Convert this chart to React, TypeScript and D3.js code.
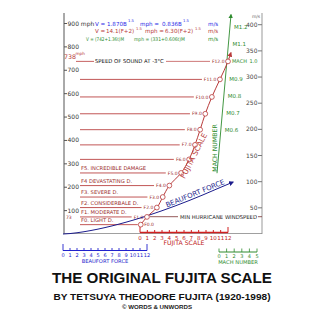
import React from "react";
import * as d3 from "d3";

// ---- data ----
const leftTicks = [100, 200, 300, 400, 500, 600, 700, 800, 900];
const rightTicks = [50, 100, 150, 200, 250, 300, 350, 400];
const fujitaNums = [0, 1, 2, 3, 4, 5, 6, 7, 8, 9, 10, 11, 12];
const fujitaMph = [40, 73, 113, 158, 207, 261, 319, 381, 446, 514, 586, 661, 738];
const fujitaCurvePos = [0.1, 0.95, 2.3, 3.1, 4.0, 5.6, 6.7, 7.5, 8.2, 8.9, 9.8, 10.9, 12.0];
const fujitaArrowPos = 12.4;
const fujitaArrowMph = 775;
const damageLabels = [
  "F0. LIGHT D.",
  "F1. MODERATE D.",
  "F2. CONSIDERBALE D.",
  "F3. SEVERE D.",
  "F4 DEVASTATING D.",
  "F5. INCREDIBLE DAMAGE",
];
const beaufortNums = [0, 1, 2, 3, 4, 5, 6, 7, 8, 9, 10, 11, 12];
const beaufortCurveB = [0, 1, 2, 3, 4, 5, 6, 7, 8, 9, 10, 11, 12, 14, 16, 18, 20, 22, 24.3];
const beaufortCurveMph = [0, 1.9, 5.3, 9.7, 15, 20.9, 27.5, 34.6, 42.3, 50.5, 59.1, 68.2, 77.7, 98, 119.7, 142.8, 167.3, 193, 222];
const machNums = [0, 1, 2, 3, 4, 5];
const machMarks = ["M0.6", "M0.7", "M0.8", "M0.9", "M1.1", "M1.2"];
const machMarkMph = [443, 517, 590, 664, 812, 886];
const machLineMph = [260, 938];
const soundMph = 738;
const minHurricaneMph = 74;
const mpsToMph = 2.237;

const RED = "#b83a3a";
const DRED = "#9a2b2b";
const BLUE = "#1c1c8c";
const EQBLUE = "#2a2ae6";
const GREEN = "#2e8b2e";
const FONT = "DejaVu Sans, sans-serif";

export default function App() {
  const y = d3.scaleLinear().domain([0, 900]).range([234, 23.5]);
  const xF = d3.scaleLinear().domain([0, 12]).range([140, 228]);
  const xB = d3.scaleLinear().domain([0, 12]).range([63, 147]);
  const xM = d3.scaleLinear().domain([0, 5]).range([219, 257]);
  const xMachLine = d3.scaleLinear().domain(machLineMph).range([217, 231]);

  const fPts: [number, number][] = fujitaMph.map((v, i) => [xF(fujitaCurvePos[i]), y(v)]);
  const fLine = d3.line().curve(d3.curveMonotoneY)([
    ...fPts,
    [xF(fujitaArrowPos), y(fujitaArrowMph)],
  ] as [number, number][]);
  const bLine = d3
    .line<number>()
    .x((_, i) => xB(beaufortCurveB[i]))
    .y((v) => y(v))
    .curve(d3.curveMonotoneX)(beaufortCurveMph);

  const bx1 = xB(16.5), by1 = y(125), bx2 = xB(21.5), by2 = y(186);
  const bAngle = (Math.atan2(by2 - by1, bx2 - bx1) * 180) / Math.PI;

  const labelW = (s: string, fs: number) => s.length * fs * 0.6;

  return (
    <svg width={325} height={325} style={{ position: "absolute", left: 0, top: 0, background: "#fff" }} fontFamily={FONT}>
      <defs>
        <marker id="arR" viewBox="0 0 10 10" refX="8" refY="5" markerWidth="5" markerHeight="5" orient="auto">
          <path d="M0,0 L10,5 L0,10 z" fill={RED} />
        </marker>
        <marker id="arB" viewBox="0 0 10 10" refX="8" refY="5" markerWidth="5" markerHeight="5" orient="auto">
          <path d="M0,0 L10,5 L0,10 z" fill={BLUE} />
        </marker>
        <marker id="arG" viewBox="0 0 10 10" refX="8" refY="5" markerWidth="5" markerHeight="5" orient="auto">
          <path d="M0,0 L10,5 L0,10 z" fill={GREEN} />
        </marker>
      </defs>

      {/* axes */}
      <line x1={64} x2={64} y1={13} y2={234} stroke="#555" strokeWidth={1} />
      <line x1={262} x2={262} y1={13} y2={234} stroke="#999" strokeWidth={1} />
      <line x1={64} x2={262} y1={233.5} y2={233.5} stroke="#888" strokeWidth={0.8} />
      {leftTicks.map((t) => (
        <g key={"l" + t}>
          <line x1={64} x2={67} y1={y(t)} y2={y(t)} stroke="#555" />
          <text x={67.5} y={y(t) + 2} fontSize={6} fill="#333">
            {t === 900 ? "900 mph" : t}
          </text>
        </g>
      ))}
      {rightTicks.map((t) => (
        <g key={"r" + t}>
          <line x1={258} x2={262} y1={y(t * mpsToMph)} y2={y(t * mpsToMph)} stroke="#777" />
          <text x={257.5} y={y(t * mpsToMph) + 2} fontSize={6} fill="#444" textAnchor="end">
            {t}
          </text>
        </g>
      ))}
      <text x={256} y={18} fontSize={4.5} fill="#666" textAnchor="middle">m/s</text>

      {/* equations */}
      <g fontSize={5.6}>
        <text y={25.5} fill={EQBLUE}>
          <tspan x={95}>V =</tspan>
          <tspan x={107}>1.870B</tspan>
          <tspan x={128} dy={-3.2} fontSize={3.8}>1.5</tspan>
          <tspan x={140} dy={3.2}>mph =</tspan>
          <tspan x={162}>0.836B</tspan>
          <tspan x={183} dy={-3.2} fontSize={3.8}>1.5</tspan>
          <tspan x={208} dy={3.2}>m/s</tspan>
        </text>
        <text y={33} fill={RED}>
          <tspan x={95}>V =</tspan>
          <tspan x={106}>14.1(F+2)</tspan>
          <tspan x={136} dy={-3.2} fontSize={3.8}>1.5</tspan>
          <tspan x={145} dy={3.2}>mph =</tspan>
          <tspan x={165}>6.30(F+2)</tspan>
          <tspan x={195} dy={-3.2} fontSize={3.8}>1.5</tspan>
          <tspan x={208} dy={3.2}>m/s</tspan>
        </text>
        <text x={86} y={40.5} fill={GREEN} fontSize={5} textLength={38} lengthAdjust="spacingAndGlyphs">
          V = (742+1.36t)M
        </text>
        <text x={134} y={40.5} fill={GREEN} fontSize={5} textLength={51} lengthAdjust="spacingAndGlyphs">
          mph = (331+0.606t)M
        </text>
        <text x={208} y={40.5} fill={GREEN}>
          m/s
        </text>
      </g>

      {/* speed of sound */}
      <text x={64} y={59} fontSize={6.3} fill={RED}>738</text>
      <text x={75.5} y={55} fontSize={4.2} fill={RED}>mph</text>
      <line x1={76} x2={94} y1={y(soundMph)} y2={y(soundMph)} stroke={RED} strokeWidth={0.8} />
      <text x={95} y={y(soundMph) + 1.9} fontSize={5.3} fill="#111">SPEED OF SOUND AT -3°C</text>

      {/* Fujita horizontal levels */}
      {fujitaNums.map((f, i) => {
        const cx = fPts[i][0];
        const cy = fPts[i][1];
        const lab = `F${f}.0`;
        const fs = 4.5;
        const w = labelW(lab, fs);
        const right = f === 0;
        const lineStart = f === 12 ? 166 : 80;
        const lineEnd = right ? cx - 3 : cx - 3.5 - w - 1;
        return (
          <g key={"f" + f}>
            <line x1={lineStart} x2={lineEnd} y1={cy} y2={cy} stroke={RED} strokeWidth={f === 12 ? 0.8 : 1} opacity={0.85} />
            <text x={right ? cx + 3.5 : cx - 3.5} y={cy + 1.6} fontSize={fs} fill={DRED} textAnchor={right ? "start" : "end"}>
              {lab}
            </text>
          </g>
        );
      })}
      {damageLabels.map((d, i) => (
        <text key={d} x={81} y={y(fujitaMph[i]) - 2.6} fontSize={5.2} fill={DRED}>
          {d}
        </text>
      ))}
      <text x={66} y={y(73) + 2} fontSize={4.5} fill={DRED}>73</text>

      {/* min hurricane */}
      <line x1={150} x2={178} y1={y(minHurricaneMph)} y2={y(minHurricaneMph)} stroke="#7a3030" strokeWidth={0.8} />
      <line x1={258} x2={262} y1={y(minHurricaneMph)} y2={y(minHurricaneMph)} stroke="#7a3030" strokeWidth={0.8} />
      <text x={180} y={y(minHurricaneMph) + 1.9} fontSize={5.3} fill="#222">MIN HURRICANE WINDSPEED</text>

      {/* Beaufort curve */}
      <path d={bLine || ""} fill="none" stroke={BLUE} strokeWidth={1} markerEnd="url(#arB)" />
      <text
        transform={`translate(${(bx1 + bx2) / 2},${(by1 + by2) / 2 - 2}) rotate(${bAngle})`}
        fontSize={7}
        fill={BLUE}
        textAnchor="middle"
      >
        BEAUFORT FORCE
      </text>

      {/* Mach line */}
      <line
        x1={xMachLine(machLineMph[0])}
        y1={y(machLineMph[0])}
        x2={xMachLine(machLineMph[1])}
        y2={y(machLineMph[1])}
        stroke={GREEN}
        strokeWidth={0.9}
        markerEnd="url(#arG)"
      />
      {machMarks.map((m, i) => (
        <text key={m} x={xMachLine(machMarkMph[i]) + 4} y={y(machMarkMph[i]) + 2} fontSize={5.5} fill={GREEN}>
          {m}
        </text>
      ))}
      <text x={232} y={y(soundMph) + 2} fontSize={5} fill={GREEN}>
        MACH <tspan dx={1}>1.0</tspan>
      </text>
      <text transform={`translate(217,148) rotate(-90)`} fontSize={6.2} fill={GREEN} textAnchor="middle">
        MACH NUMBER
      </text>

      {/* Fujita curve */}
      <path d={fLine || ""} fill="none" stroke={RED} strokeWidth={1} markerEnd="url(#arR)" />
      {fPts.map((p, i) => (
        <circle key={"c" + i} cx={p[0]} cy={p[1]} r={2.4} fill="#fff" stroke={RED} strokeWidth={0.8} />
      ))}
      <text transform={`translate(196,157) rotate(-63)`} fontSize={7.5} fill={RED} textAnchor="middle">
        FUJITA SCALE
      </text>

      {/* Fujita scale axis */}
      <line x1={xF(0)} x2={xF(12)} y1={232.5} y2={232.5} stroke="#d02020" strokeWidth={1.5} />
      {fujitaNums.map((f) => (
        <g key={"fx" + f}>
          <line x1={xF(f)} x2={xF(f)} y1={232.5} y2={f === 0 || f === 12 ? 227 : 230} stroke="#d02020" strokeWidth={1} />
          <text x={xF(f)} y={239.5} fontSize={5.5} fill="#c02020" textAnchor="middle">{f}</text>
        </g>
      ))}
      <text x={184} y={245} fontSize={6.2} fill="#c02020" textAnchor="middle">FUJITA SCALE</text>

      {/* Beaufort axis */}
      <line x1={xB(0)} x2={xB(12)} y1={250.5} y2={250.5} stroke="#2222cc" strokeWidth={1.2} />
      {beaufortNums.map((b) => (
        <g key={"bx" + b}>
          <line x1={xB(b)} x2={xB(b)} y1={250.5} y2={b === 0 || b === 12 ? 244 : 248} stroke="#2222cc" strokeWidth={0.9} />
          <text x={xB(b)} y={256.5} fontSize={5} fill="#2222cc" textAnchor="middle">{b}</text>
        </g>
      ))}
      <text x={105} y={262.5} fontSize={5.2} fill="#2222cc" textAnchor="middle">BEAUFORT FORCE</text>

      {/* Mach axis */}
      <line x1={xM(0)} x2={xM(5)} y1={252} y2={252} stroke={GREEN} strokeWidth={1} />
      {machNums.map((m) => (
        <g key={"mx" + m}>
          <line x1={xM(m)} x2={xM(m)} y1={252} y2={248.5} stroke={GREEN} strokeWidth={0.8} />
          <text x={xM(m)} y={257.5} fontSize={5} fill={GREEN} textAnchor="middle">{m}</text>
        </g>
      ))}
      <text x={238} y={263.5} fontSize={5.2} fill={GREEN} textAnchor="middle">MACH NUMBER</text>

      {/* titles */}
      <text x={162} y={283} fontSize={15.5} fontWeight="bold" fontFamily="Liberation Sans, Arial, sans-serif" textAnchor="middle" textLength={220} lengthAdjust="spacingAndGlyphs" fill="#111">
        THE ORIGINAL FUJITA SCALE
      </text>
      <text x={162} y={300} fontSize={9.8} fontWeight="bold" fontFamily="Liberation Sans, Arial, sans-serif" textAnchor="middle" textLength={217} lengthAdjust="spacingAndGlyphs" fill="#111">
        BY TETSUYA THEODORE FUJITA (1920-1998)
      </text>
      <text x={157} y={309} fontSize={5.5} fontWeight="bold" fontFamily="Liberation Sans, Arial, sans-serif" textAnchor="middle" textLength={70} lengthAdjust="spacingAndGlyphs" fill="#222">
        © WORDS &amp; UNWORDS
      </text>
    </svg>
  );
}
